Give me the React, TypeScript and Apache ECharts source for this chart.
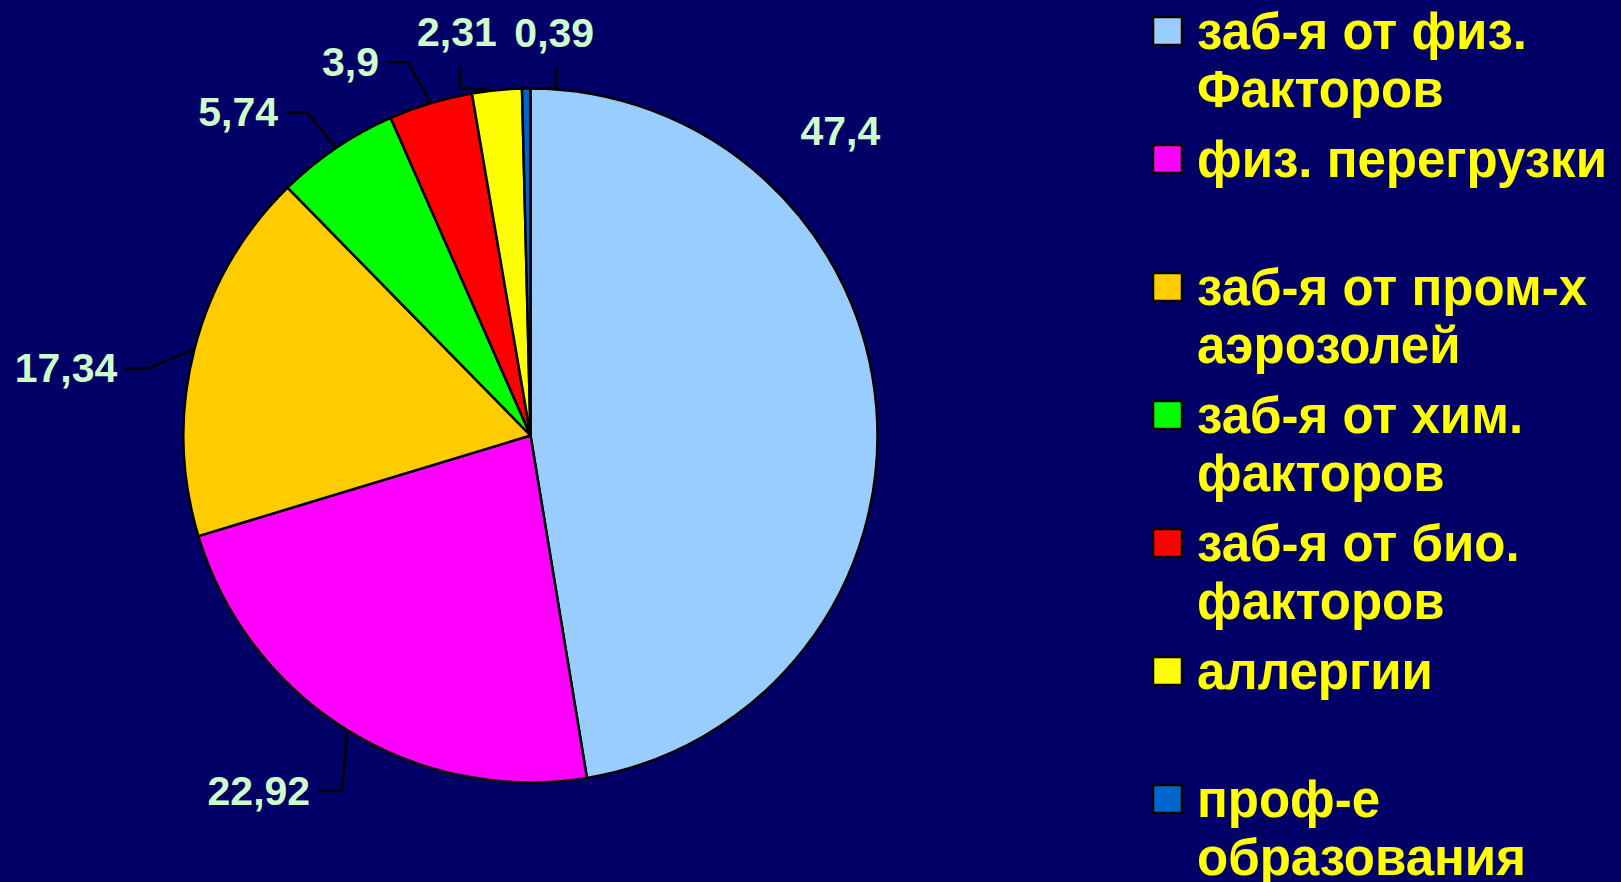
import React, { useEffect, useRef } from "react";
import * as echarts from "echarts";

// ---- data ----
const categories = [
  "заб-я от физ.\nФакторов",
  "физ. перегрузки",
  "заб-я от пром-х\nаэрозолей",
  "заб-я от хим.\nфакторов",
  "заб-я от био.\nфакторов",
  "аллергии",
  "проф-е\nобразования",
];
const values = [47.4, 22.92, 17.34, 5.74, 3.9, 2.31, 0.39];
const colors = ["#99CCFF", "#FF00FF", "#FFCC00", "#00FF00", "#FF0000", "#FFFF00", "#0066CC"];

// ---- layout / style ----
const CX = 530.5;
const CY = 435.5;
const R = 347;
const FONT = '"Liberation Sans", Arial, sans-serif';

// leader shapes: elbow offset from slice edge, end offset from elbow, text offset from end
const leaders = [
  { elbow: [0, 0], end: [0, 0], text: [-36, -276], align: "center", line: false },
  { elbow: [-5, 61], end: [-24, 0], text: [-8, 0], align: "right", line: true },
  { elbow: [-46, 19], end: [-23, 0], text: [-8, 0], align: "right", line: true },
  { elbow: [-29, -36], end: [-21, 0], text: [-8, 0], align: "right", line: true },
  { elbow: [-22.5, -41], end: [-22, 0], text: [-7, 0], align: "right", line: true },
  { elbow: [-37, -2], end: [0, -22], text: [-3, -34], align: "center", line: true },
  { elbow: [30, 0], end: [0, -22], text: [-2, -34], align: "center", line: true },
];

function edgePoint(i: number): number[] {
  const total = values.reduce((a, b) => a + b, 0);
  let cum = 0;
  for (let k = 0; k < i; k++) cum += values[k];
  const frac = (cum + values[i] / 2) / total;
  const a = frac * Math.PI * 2;
  return [CX + R * Math.sin(a), CY - R * Math.cos(a)];
}

export default function App() {
  const ref = useRef<HTMLDivElement>(null);
  useEffect(() => {
    if (!ref.current) return;
    const chart = echarts.init(ref.current, undefined, { renderer: "svg" });

    const legendGraphics: any[] = [];
    categories.forEach((name, k) => {
      legendGraphics.push({
        type: "rect",
        shape: { x: 1153, y: 17 + 128 * k, width: 29, height: 28 },
        style: { fill: colors[k], stroke: "#000", lineWidth: 2.5 },
      });
      legendGraphics.push({
        type: "text",
        x: 1197,
        y: 2 + 128 * k,
        style: {
          text: name,
          fill: "#FFFF00",
          fontSize: 51,
          fontWeight: "bold",
          fontFamily: FONT,
          lineHeight: 58,
          verticalAlign: "top",
          align: "left",
        },
      });
    });

    chart.setOption({
      animation: false,
      backgroundColor: "#000066",
      graphic: legendGraphics,
      series: [
        {
          type: "pie",
          center: [CX, CY],
          radius: R,
          startAngle: 90,
          clockwise: true,
          avoidLabelOverlap: false,
          silent: true,
          itemStyle: { borderColor: "#000", borderWidth: 2.5 },
          label: {
            show: true,
            position: "outside",
            color: "#CCFFCC",
            fontSize: 41,
            fontWeight: "bold",
            fontFamily: FONT,
            formatter: (p: any) => String(p.value).replace(".", ","),
          },
          labelLine: {
            show: true,
            smooth: false,
            lineStyle: { color: "#000", width: 2.5 },
          },
          labelLayout: (params: any) => {
            const i = params.dataIndex;
            const L = leaders[i];
            const lp = params.labelLinePoints;
            const edge = lp && lp[0] ? [lp[0][0], lp[0][1]] : edgePoint(i);
            const elbow = [edge[0] + L.elbow[0], edge[1] + L.elbow[1]];
            const end = [elbow[0] + L.end[0], elbow[1] + L.end[1]];
            const out: any = {
              x: end[0] + L.text[0],
              y: end[1] + L.text[1],
              align: L.align,
              verticalAlign: "middle",
            };
            if (L.line) out.labelLinePoints = [edge, elbow, end];
            return out;
          },
          data: values.map((v, i) => ({
            value: v,
            name: categories[i].replace("\n", " "),
            itemStyle: { color: colors[i] },
            labelLine: leaders[i].line ? undefined : { show: false },
          })),
        },
      ],
    });
    return () => chart.dispose();
  }, []);

  return (
    <div
      ref={ref}
      style={{ position: "fixed", left: 0, top: 0, width: 1621, height: 882 }}
    />
  );
}
